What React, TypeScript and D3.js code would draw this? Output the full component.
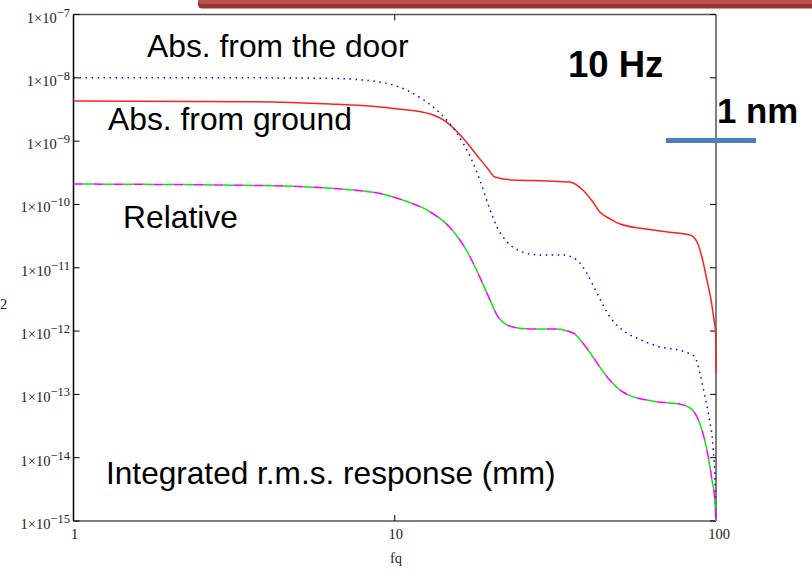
import React from "react";
import * as d3 from "d3";

// frequency (Hz) and integrated r.m.s. response values
const doorF = [1, 3.54, 6.29, 7.41, 9.88, 12.2, 13.8, 15.6, 17.2, 18.4, 19.8, 20.8, 22.4, 24.5, 28.3, 33.4, 36.9, 39.6, 42.6, 46.8, 50.3, 56.8, 65.5, 81.8, 86.0, 89.1, 92.4, 95.1, 97.9, 99.3, 100];
const doorV = [1.0e-8, 1.0e-8, 0.98e-8, 0.95e-8, 7.7e-9, 4.6e-9, 2.8e-9, 1.34e-9, 5.6e-10, 2.43e-10, 8.2e-11, 4.4e-11, 2.55e-11, 1.84e-11, 1.59e-11, 1.59e-11, 1.32e-11, 8.2e-12, 4.0e-12, 1.66e-12, 1.11e-12, 7.7e-13, 5.8e-13, 4.5e-13, 3.9e-13, 2.17e-13, 9.1e-14, 4.4e-14, 1.47e-14, 4.4e-15, 1e-15];

const groundF = [1, 3.54, 6.29, 9.0, 10.4, 12.9, 14.5, 16.3, 18.0, 19.4, 20.5, 23.3, 29.8, 35.1, 38.5, 41.4, 43.5, 46.8, 50.3, 63.7, 75.6, 83.0, 87.3, 90.4, 93.7, 96.5, 98.6, 99.8, 100];
const groundV = [4.3e-9, 4.2e-9, 3.86e-9, 3.46e-9, 3.2e-9, 2.68e-9, 2.0e-9, 1.12e-9, 6.0e-10, 3.76e-10, 2.71e-10, 2.43e-10, 2.35e-10, 2.26e-10, 1.69e-10, 1.09e-10, 7.6e-11, 5.9e-11, 4.9e-11, 3.95e-11, 3.53e-11, 3.29e-11, 2.55e-11, 1.48e-11, 6.4e-12, 3.1e-12, 1.49e-12, 9e-13, 2.2e-13];

const relF = [1, 3.54, 6.29, 9.13, 10.6, 12.9, 15.1, 16.9, 18.4, 19.8, 21.0, 23.3, 26.4, 31.1, 35.9, 38.5, 41.4, 46.1, 51.3, 63.7, 77.3, 83.0, 87.3, 90.4, 93.7, 97.2, 99.3, 100];
const relV = [2.1e-10, 2.0e-10, 1.8e-10, 1.46e-10, 1.17e-10, 7.6e-11, 3.95e-11, 1.71e-11, 7.1e-12, 3.1e-12, 1.66e-12, 1.16e-12, 1.08e-12, 1.08e-12, 9.3e-13, 6.5e-13, 3.9e-13, 1.81e-13, 1.09e-13, 7.8e-14, 7.0e-14, 6.1e-14, 4.4e-14, 2.73e-14, 1.32e-14, 4.4e-15, 1.92e-15, 1e-15];

const yTickExps = [-7, -8, -9, -10, -11, -12, -13, -14, -15];
const xTicks = [1, 10, 100];

const L = 73.5, R = 716, T = 14.5, B = 521;

export default function App() {
  const x = d3.scaleLog().domain([1, 100]).range([L, R]);
  const y = d3.scaleLog().domain([1e-15, 1e-7]).range([B, T]);
  const mk = (fs: number[], vs: number[]) =>
    d3.line<number>().x((_, i) => x(fs[i])).y((v) => y(v)).curve(d3.curveMonotoneX)(vs) || "";
  const door = mk(doorF, doorV);
  const ground = mk(groundF, groundV);
  const rel = mk(relF, relV);
  const big = { fontFamily: "'Liberation Sans', Arial, sans-serif", fill: "#000" };
  const serif = "'Liberation Serif', 'Times New Roman', serif";
  return (
    <svg width={812} height={570} style={{ position: "absolute", left: 0, top: 0, background: "#fff" }}>
      <rect x={0} y={0} width={812} height={570} fill="#fff" />
      {/* red banner */}
      <rect x={198} y={-6} width={620} height={14.5} rx={4} fill="#953735" />
      <rect x={198} y={-6} width={620} height={10} rx={4} fill="#c0504d" />
      {/* frame */}
      <line x1={L} y1={T} x2={R} y2={T} stroke="#555" strokeWidth={1.5} />
      <line x1={R} y1={T} x2={R} y2={B} stroke="#555" strokeWidth={1.5} />
      <line x1={L} y1={B} x2={R} y2={B} stroke="#555" strokeWidth={1.5} />
      <line x1={L} y1={T} x2={L} y2={B} stroke="#000" strokeWidth={1.5} />
      {yTickExps.map((e) => (
        <g key={e}>
          <line x1={L} x2={L + 6} y1={y(Math.pow(10, e))} y2={y(Math.pow(10, e))} stroke="#000" strokeWidth={1} />
          <line x1={R - 6} x2={R} y1={y(Math.pow(10, e))} y2={y(Math.pow(10, e))} stroke="#000" strokeWidth={1} />
          <text x={70} y={y(Math.pow(10, e)) + 8} textAnchor="end" fontFamily={serif} fontSize={14.5} fill="#222">
            1×10
            <tspan fontSize={12.5} dy={-6}>{"\u2212" + Math.abs(e)}</tspan>
          </text>
        </g>
      ))}
      {xTicks.map((t) => (
        <g key={t}>
          {t === 10 && <line x1={x(t)} x2={x(t)} y1={B} y2={B - 6} stroke="#000" />}
          {t === 10 && <line x1={x(t)} x2={x(t)} y1={T} y2={T + 6} stroke="#000" />}
          <text x={x(t) + (t === 100 ? 3 : 1)} y={539} textAnchor="middle" fontFamily={serif} fontSize={14.5} fill="#222">{t}</text>
        </g>
      ))}
      <text x={396} y={563} textAnchor="middle" fontFamily={serif} fontSize={14.5} fill="#222">fq</text>
      <text x={0} y={309} fontFamily={serif} fontSize={14.5} fill="#222">2</text>
      {/* curves */}
      <path d={ground} fill="none" stroke="#ff2020" strokeWidth={1.5} />
      <path d={door} fill="none" stroke="#0000ff" strokeWidth={1.5} strokeDasharray="1.5 4.5" />
      <path d={rel} fill="none" stroke="#00ee00" strokeWidth={1.5} strokeDasharray="10 10" strokeDashoffset={10} />
      <path d={rel} fill="none" stroke="#ff00ff" strokeWidth={1.5} strokeDasharray="10 10" />
      {/* annotations */}
      <text x={147} y={57} fontSize={31.8} {...big}>Abs. from the door</text>
      <text x={108} y={130} fontSize={31.8} {...big}>Abs. from ground</text>
      <text x={123} y={228} fontSize={31.8} {...big}>Relative</text>
      <text x={106} y={484} fontSize={31.6} {...big}>Integrated r.m.s. response (mm)</text>
      <text x={568} y={77} fontSize={36.5} fontWeight="bold" {...big}>10 Hz</text>
      <text x={717} y={123} fontSize={34.8} fontWeight="bold" {...big}>1 nm</text>
      <line x1={666} x2={756} y1={140.5} y2={140.5} stroke="#4a7ebb" strokeWidth={5} />
    </svg>
  );
}
